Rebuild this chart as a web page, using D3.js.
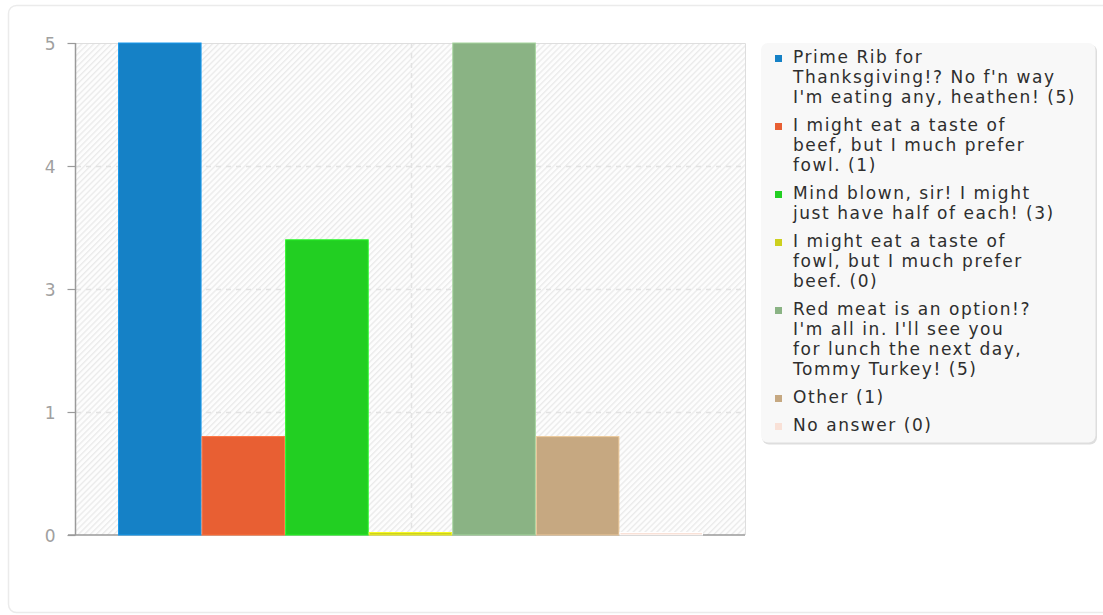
<!DOCTYPE html>
<html><head><meta charset="utf-8">
<script src="https://cdn.jsdelivr.net/npm/d3@7"></script>
<style>
body{margin:0;background:#fff;}
svg{display:block;font-family:"DejaVu Sans",sans-serif;}
</style>
</head><body>
<svg id="chart" width="1103" height="615"></svg>
<script>
// ---- data ----
const categories = ["Q"];
const answers = [
  "Prime Rib for Thanksgiving!? No f'n way I'm eating any, heathen!",
  "I might eat a taste of beef, but I much prefer fowl.",
  "Mind blown, sir! I might just have half of each!",
  "I might eat a taste of fowl, but I much prefer beef.",
  "Red meat is an option!? I'm all in. I'll see you for lunch the next day, Tommy Turkey!",
  "Other",
  "No answer"
];
const counts = [5, 1, 3, 0, 5, 1, 0];
const colors = ["#1581c6", "#e85f33", "#22cf22", "#cdd01e", "#8ab384", "#c6a881", "#f9e1d7"];
const legendLines = [
  ["Prime Rib for", "Thanksgiving!? No f'n way", "I'm eating any, heathen!"],
  ["I might eat a taste of", "beef, but I much prefer", "fowl."],
  ["Mind blown, sir! I might", "just have half of each!"],
  ["I might eat a taste of", "fowl, but I much prefer", "beef."],
  ["Red meat is an option!?", "I'm all in. I'll see you", "for lunch the next day,", "Tommy Turkey!"],
  ["Other"],
  ["No answer"]
];
const yTickValues = [0, 1.25, 2.5, 3.75, 5];
const yTickLabels = ["0", "1", "3", "4", "5"];

// ---- layout ----
const svg = d3.select("#chart");
const plot = {left: 76, right: 745, top: 43, bottom: 535};

// container
svg.append("rect").attr("x", 8.5).attr("y", 5.5).attr("width", 1115).attr("height", 607)
  .attr("rx", 8).attr("fill", "#fff").attr("stroke", "#ebebeb").attr("stroke-width", 1.5);

const defs = svg.append("defs");
const pat = defs.append("pattern").attr("id", "hatch").attr("patternUnits", "userSpaceOnUse")
  .attr("width", 4.2).attr("height", 4.2).attr("patternTransform", "rotate(45)");
pat.append("rect").attr("width", 4.2).attr("height", 4.2).attr("fill", "#fdfdfd");
pat.append("line").attr("x1", 0.7).attr("y1", 0).attr("x2", 0.7).attr("y2", 4.2)
  .attr("stroke", "#ebebeb").attr("stroke-width", 1.4);

const y = d3.scaleLinear().domain([0, 5]).range([plot.bottom, plot.top]);
const x0 = d3.scaleBand().domain(categories).range([plot.left, plot.right]).paddingOuter(0.0718).paddingInner(0);
const x1 = d3.scaleBand().domain(answers).range([0, x0.bandwidth()]).padding(0);

// plot background
svg.append("rect").attr("x", plot.left).attr("y", plot.top)
  .attr("width", plot.right - plot.left).attr("height", plot.bottom - plot.top)
  .attr("fill", "url(#hatch)");

// grid
const gridG = svg.append("g");
gridG.selectAll("line.h").data(yTickValues.filter(v => v > 0 && v < 5)).join("line")
  .attr("x1", plot.left).attr("x2", plot.right)
  .attr("y1", d => Math.round(y(d)) + 0.5).attr("y2", d => Math.round(y(d)) + 0.5)
  .attr("stroke", "#e2e2e2").attr("stroke-width", 1.5).attr("stroke-dasharray", "5,5");
gridG.selectAll("line.v").data(categories).join("line")
  .attr("x1", d => Math.round(x0(d) + x0.bandwidth() / 2) + 0.5)
  .attr("x2", d => Math.round(x0(d) + x0.bandwidth() / 2) + 0.5)
  .attr("y1", plot.top).attr("y2", plot.bottom)
  .attr("stroke", "#e2e2e2").attr("stroke-width", 1.5).attr("stroke-dasharray", "5,5");
// top and right border
svg.append("path").attr("d", `M${plot.left},${plot.top + 0.5}H${plot.right + 0.5}V${plot.bottom}`)
  .attr("fill", "none").attr("stroke", "#dedede").attr("stroke-width", 1);

// y axis
const yAxis = d3.axisLeft(y).tickValues(yTickValues)
  .tickFormat((d, i) => yTickLabels[i]).tickSize(8).tickPadding(12);
const ya = svg.append("g").attr("transform", `translate(${plot.left - 0.5},0)`).call(yAxis);
ya.select(".domain").attr("stroke", "#9a9a9a").attr("stroke-width", 1.5).attr("d", `M0,${plot.top}V${plot.bottom}`);
ya.selectAll(".tick line").attr("stroke", "#9a9a9a").attr("stroke-width", 1.2);
ya.selectAll(".tick text").attr("fill", "#a0a0a0").attr("font-size", 17)
  .attr("font-family", "DejaVu Sans").attr("dy", "0.36em");

// x axis baseline
const xAxis = d3.axisBottom(x0).tickSize(0).tickFormat("");
const xa = svg.append("g").attr("transform", `translate(0,${plot.bottom})`).call(xAxis);
xa.select(".domain").attr("stroke", "#9a9a9a").attr("stroke-width", 1.5)
  .attr("d", `M${plot.left - 8},0H${plot.right}`);

// bars
const barG = svg.append("g");
barG.selectAll("rect").data(answers.map((a, i) => ({a, v: counts[i], c: colors[i]}))).join("rect")
  .attr("x", d => x0(categories[0]) + x1(d.a) + 0.5)
  .attr("width", x1.bandwidth() - 1)
  .attr("y", d => Math.min(y(d.v), plot.bottom - 2.5))
  .attr("height", d => Math.max(plot.bottom - y(d.v), 2.5))
  .attr("fill", d => d.c)
  .attr("stroke", d => d3.color(d.c).brighter(0.5))
  .attr("stroke-width", 1);

// legend
const lg = svg.append("g");
lg.append("rect").attr("x", 762).attr("y", 44.5).attr("width", 335).attr("height", 400)
  .attr("rx", 7).attr("fill", "#dedede");
lg.append("rect").attr("x", 761).attr("y", 43).attr("width", 334.5).attr("height", 399.5)
  .attr("rx", 7).attr("fill", "#f8f8f8");

let baseY = 63;
legendLines.forEach((lines, i) => {
  const full = lines.slice();
  full[full.length - 1] = full[full.length - 1] + " (" + counts[i] + ")";
  lg.append("rect").attr("x", 775).attr("y", baseY - 8).attr("width", 7).attr("height", 7)
    .attr("fill", colors[i]);
  const t = lg.append("text").attr("x", 793).attr("y", baseY)
    .attr("font-size", 17).attr("letter-spacing", 1.55).attr("fill", "#2e2e2e");
  full.forEach((ln, j) => {
    t.append("tspan").attr("x", 793).attr("y", baseY + j * 20).text(ln);
  });
  baseY += full.length * 20 + 8;
});
</script>
</body></html>
